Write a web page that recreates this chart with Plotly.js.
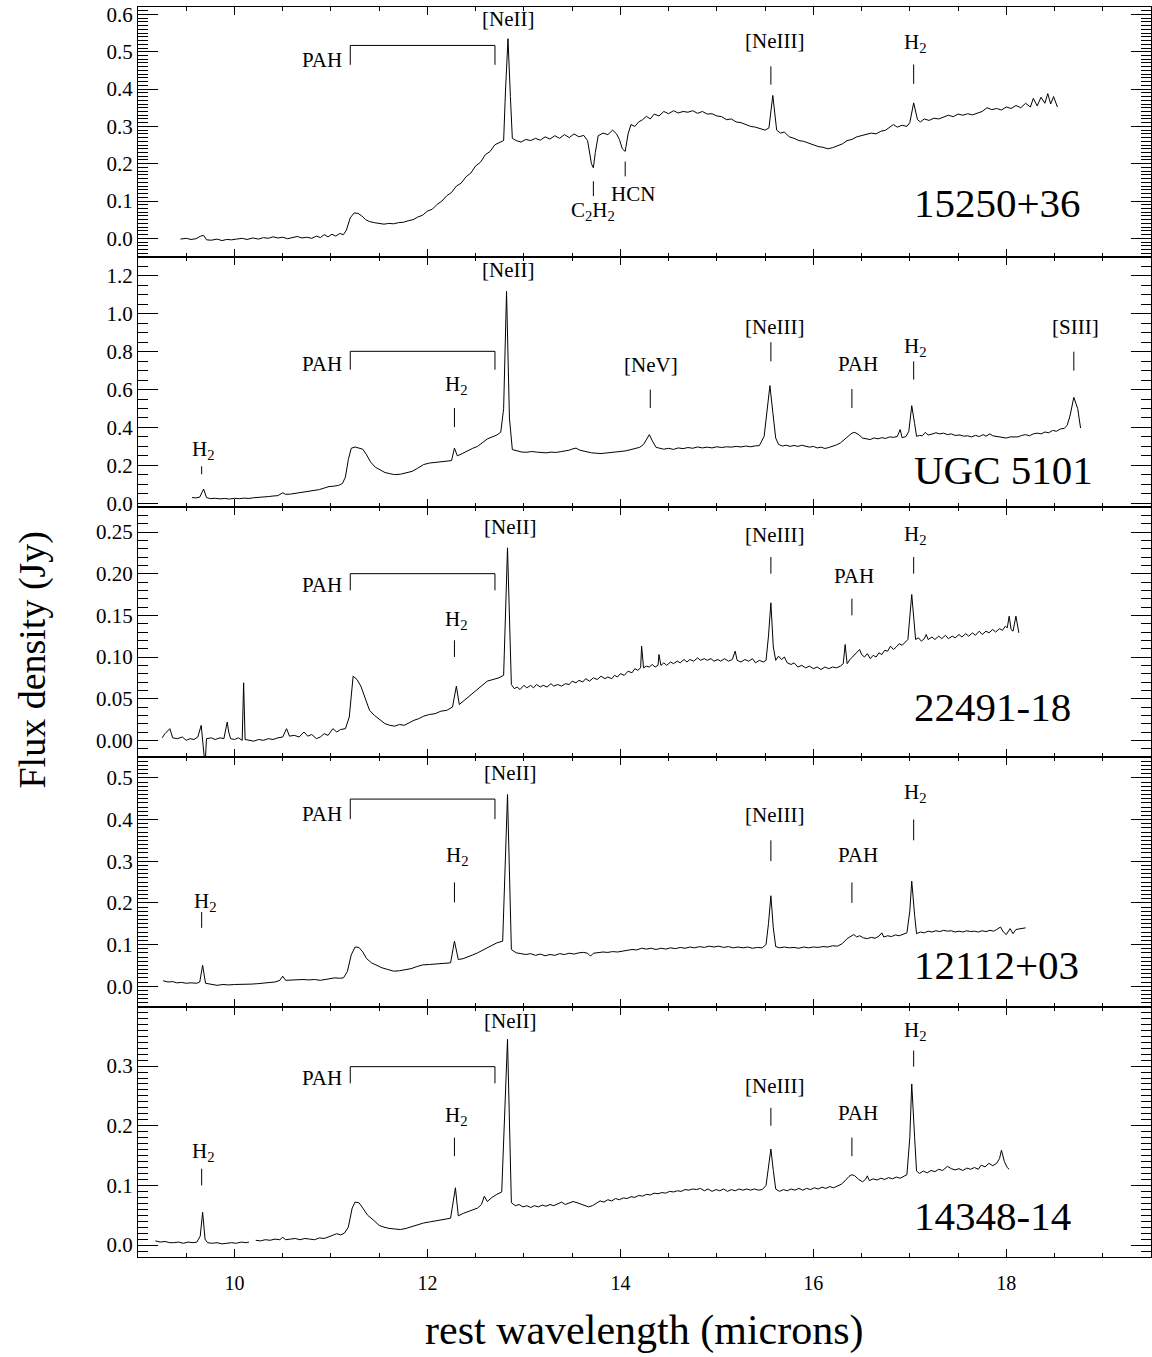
<!DOCTYPE html>
<html>
<head>
<meta charset="utf-8">
<script src="https://cdn.plot.ly/plotly-3.0.1.min.js"></script>
<style>html,body{margin:0;padding:0;background:#fff;}#chart{width:1152px;height:1357px;}</style>
</head>
<body>
<div id="chart"></div>
<script>
// ---------------- DATA ----------------
// each spectrum: [rest wavelength (micron), flux density (Jy)]
const galaxyNames = ["15250+36", "UGC 5101", "22491-18", "12112+03", "14348-14"];

const spec15250 = [[9.44,-0.002],[9.50,0.000],[9.55,-0.003],[9.60,-0.001],[9.65,0.006],[9.68,0.008],[9.71,-0.004],[9.76,-0.005],[9.82,-0.002],[9.87,-0.006],[9.92,-0.003],[9.97,-0.004],[10.02,-0.002],[10.08,0.000],[10.13,-0.003],[10.19,0.001],[10.25,-0.002],[10.30,0.002],[10.35,0.000],[10.40,0.004],[10.45,0.001],[10.50,0.003],[10.55,-0.001],[10.60,0.002],[10.65,0.005],[10.70,0.001],[10.75,0.003],[10.80,0.000],[10.85,0.006],[10.89,0.002],[10.93,0.010],[10.97,0.004],[11.01,0.011],[11.05,0.006],[11.09,0.013],[11.13,0.010],[11.16,0.022],[11.20,0.055],[11.24,0.068],[11.28,0.067],[11.32,0.060],[11.36,0.050],[11.40,0.045],[11.45,0.042],[11.50,0.040],[11.55,0.038],[11.60,0.040],[11.65,0.039],[11.70,0.042],[11.75,0.043],[11.80,0.047],[11.85,0.050],[11.90,0.057],[11.95,0.062],[12.00,0.073],[12.05,0.078],[12.10,0.091],[12.15,0.100],[12.20,0.114],[12.25,0.123],[12.30,0.140],[12.35,0.148],[12.40,0.165],[12.45,0.175],[12.50,0.194],[12.55,0.204],[12.60,0.224],[12.65,0.233],[12.70,0.251],[12.75,0.256],[12.79,0.262],[12.81,0.400],[12.835,0.535],[12.86,0.380],[12.88,0.268],[12.92,0.262],[12.97,0.258],[13.02,0.265],[13.07,0.262],[13.12,0.268],[13.17,0.263],[13.22,0.272],[13.27,0.266],[13.32,0.275],[13.37,0.268],[13.42,0.278],[13.47,0.270],[13.52,0.280],[13.57,0.272],[13.62,0.276],[13.66,0.262],[13.70,0.200],[13.72,0.189],[13.74,0.230],[13.77,0.275],[13.82,0.282],[13.87,0.278],[13.92,0.290],[13.96,0.280],[13.99,0.265],[14.02,0.240],[14.05,0.233],[14.08,0.280],[14.11,0.305],[14.15,0.300],[14.19,0.312],[14.23,0.318],[14.27,0.327],[14.31,0.320],[14.35,0.333],[14.40,0.328],[14.45,0.340],[14.50,0.334],[14.55,0.342],[14.60,0.336],[14.65,0.340],[14.70,0.338],[14.75,0.342],[14.80,0.335],[14.85,0.340],[14.90,0.333],[14.95,0.334],[15.00,0.328],[15.05,0.326],[15.10,0.318],[15.15,0.320],[15.20,0.312],[15.25,0.310],[15.30,0.305],[15.35,0.300],[15.40,0.298],[15.45,0.295],[15.50,0.290],[15.54,0.296],[15.58,0.383],[15.62,0.290],[15.66,0.282],[15.70,0.285],[15.75,0.272],[15.80,0.268],[15.85,0.262],[15.90,0.260],[15.95,0.255],[16.00,0.252],[16.05,0.246],[16.10,0.244],[16.15,0.240],[16.20,0.243],[16.25,0.248],[16.30,0.253],[16.35,0.262],[16.40,0.265],[16.45,0.272],[16.50,0.275],[16.55,0.278],[16.60,0.282],[16.65,0.280],[16.70,0.287],[16.75,0.290],[16.80,0.300],[16.83,0.305],[16.87,0.298],[16.92,0.303],[16.97,0.300],[17.00,0.310],[17.04,0.363],[17.08,0.318],[17.11,0.312],[17.15,0.320],[17.20,0.316],[17.25,0.322],[17.30,0.320],[17.35,0.326],[17.40,0.330],[17.45,0.326],[17.50,0.333],[17.55,0.330],[17.60,0.334],[17.65,0.331],[17.70,0.336],[17.75,0.340],[17.80,0.350],[17.85,0.345],[17.90,0.348],[17.95,0.344],[18.00,0.352],[18.05,0.348],[18.10,0.356],[18.15,0.350],[18.20,0.362],[18.25,0.352],[18.28,0.375],[18.32,0.355],[18.36,0.378],[18.40,0.362],[18.43,0.388],[18.46,0.360],[18.49,0.380],[18.53,0.352]];

const specUGC5101 = [[9.56,0.030],[9.60,0.028],[9.64,0.032],[9.68,0.075],[9.71,0.030],[9.75,0.024],[9.80,0.026],[9.85,0.023],[9.90,0.025],[9.95,0.022],[10.00,0.026],[10.05,0.024],[10.10,0.027],[10.15,0.025],[10.20,0.029],[10.25,0.030],[10.30,0.033],[10.35,0.035],[10.40,0.038],[10.45,0.040],[10.50,0.055],[10.53,0.047],[10.58,0.048],[10.63,0.052],[10.68,0.055],[10.73,0.058],[10.78,0.062],[10.83,0.066],[10.88,0.072],[10.93,0.080],[10.98,0.088],[11.03,0.090],[11.08,0.094],[11.12,0.105],[11.15,0.138],[11.18,0.230],[11.21,0.290],[11.25,0.297],[11.29,0.292],[11.33,0.285],[11.37,0.255],[11.41,0.218],[11.46,0.190],[11.51,0.174],[11.56,0.162],[11.61,0.156],[11.66,0.151],[11.72,0.153],[11.78,0.159],[11.84,0.168],[11.90,0.185],[11.96,0.204],[12.02,0.212],[12.08,0.215],[12.14,0.218],[12.20,0.222],[12.25,0.225],[12.28,0.291],[12.31,0.250],[12.36,0.262],[12.42,0.278],[12.47,0.290],[12.52,0.300],[12.57,0.320],[12.62,0.339],[12.67,0.350],[12.72,0.360],[12.76,0.375],[12.79,0.500],[12.82,1.119],[12.85,0.450],[12.88,0.283],[12.93,0.275],[12.98,0.270],[13.03,0.269],[13.08,0.273],[13.13,0.270],[13.18,0.268],[13.23,0.266],[13.28,0.270],[13.33,0.268],[13.38,0.272],[13.43,0.275],[13.47,0.280],[13.50,0.286],[13.54,0.291],[13.58,0.280],[13.62,0.274],[13.66,0.270],[13.70,0.266],[13.75,0.264],[13.80,0.262],[13.85,0.265],[13.90,0.268],[13.95,0.270],[14.00,0.272],[14.05,0.276],[14.10,0.282],[14.15,0.288],[14.20,0.295],[14.24,0.310],[14.27,0.340],[14.30,0.362],[14.33,0.330],[14.37,0.295],[14.41,0.290],[14.45,0.285],[14.50,0.290],[14.55,0.284],[14.60,0.292],[14.65,0.288],[14.70,0.294],[14.75,0.290],[14.80,0.297],[14.85,0.292],[14.90,0.296],[14.95,0.292],[15.00,0.298],[15.05,0.294],[15.10,0.298],[15.15,0.296],[15.20,0.300],[15.25,0.297],[15.30,0.302],[15.35,0.298],[15.40,0.303],[15.44,0.304],[15.49,0.353],[15.52,0.500],[15.55,0.621],[15.58,0.480],[15.61,0.344],[15.64,0.310],[15.68,0.302],[15.72,0.306],[15.76,0.300],[15.80,0.305],[15.84,0.300],[15.88,0.306],[15.92,0.300],[15.96,0.296],[16.00,0.300],[16.04,0.292],[16.08,0.296],[16.12,0.289],[16.16,0.294],[16.20,0.300],[16.24,0.308],[16.28,0.318],[16.32,0.335],[16.36,0.355],[16.40,0.370],[16.43,0.374],[16.47,0.362],[16.51,0.344],[16.55,0.338],[16.59,0.336],[16.63,0.345],[16.67,0.340],[16.71,0.346],[16.75,0.342],[16.79,0.350],[16.83,0.348],[16.87,0.352],[16.90,0.389],[16.92,0.346],[16.96,0.352],[16.99,0.380],[17.02,0.515],[17.05,0.420],[17.07,0.353],[17.10,0.358],[17.13,0.356],[17.16,0.374],[17.19,0.360],[17.23,0.365],[17.27,0.372],[17.31,0.366],[17.35,0.370],[17.39,0.362],[17.43,0.366],[17.47,0.358],[17.52,0.360],[17.56,0.354],[17.60,0.356],[17.64,0.350],[17.68,0.358],[17.72,0.352],[17.76,0.362],[17.79,0.354],[17.83,0.366],[17.86,0.356],[17.90,0.352],[17.95,0.348],[18.00,0.344],[18.04,0.350],[18.08,0.352],[18.12,0.350],[18.16,0.358],[18.20,0.362],[18.24,0.356],[18.28,0.366],[18.32,0.370],[18.36,0.366],[18.40,0.376],[18.44,0.372],[18.48,0.384],[18.52,0.380],[18.56,0.392],[18.60,0.395],[18.63,0.410],[18.66,0.460],[18.70,0.559],[18.74,0.500],[18.77,0.397]];

const spec22491 = [[9.25,0.003],[9.28,0.008],[9.33,0.014],[9.36,0.003],[9.41,0.002],[9.46,0.004],[9.50,0.000],[9.54,0.002],[9.58,0.001],[9.62,0.004],[9.655,0.018],[9.67,0.002],[9.695,-0.030],[9.71,0.002],[9.76,0.003],[9.80,0.001],[9.85,0.003],[9.89,0.002],[9.925,0.022],[9.94,0.010],[9.96,0.002],[10.00,0.001],[10.04,0.003],[10.08,0.000],[10.095,0.069],[10.11,0.001],[10.15,0.000],[10.20,-0.001],[10.25,0.001],[10.30,0.000],[10.35,0.002],[10.40,0.001],[10.45,0.003],[10.50,0.004],[10.54,0.014],[10.57,0.005],[10.62,0.006],[10.67,0.004],[10.72,0.010],[10.76,0.005],[10.80,0.007],[10.85,0.002],[10.89,0.004],[10.93,0.008],[10.97,0.006],[11.02,0.014],[11.06,0.010],[11.10,0.013],[11.15,0.014],[11.19,0.028],[11.23,0.077],[11.27,0.073],[11.31,0.065],[11.35,0.052],[11.40,0.036],[11.45,0.030],[11.51,0.025],[11.56,0.020],[11.61,0.018],[11.66,0.017],[11.71,0.019],[11.76,0.018],[11.81,0.021],[11.86,0.024],[11.91,0.026],[11.96,0.029],[12.02,0.031],[12.08,0.032],[12.14,0.035],[12.20,0.036],[12.26,0.040],[12.30,0.065],[12.33,0.043],[12.38,0.048],[12.43,0.053],[12.48,0.058],[12.52,0.061],[12.57,0.066],[12.62,0.071],[12.68,0.073],[12.74,0.075],[12.79,0.078],[12.83,0.231],[12.87,0.067],[12.90,0.062],[12.93,0.064],[12.96,0.061],[13.00,0.066],[13.03,0.063],[13.07,0.066],[13.10,0.063],[13.13,0.067],[13.17,0.064],[13.20,0.066],[13.24,0.064],[13.28,0.068],[13.31,0.065],[13.35,0.067],[13.39,0.065],[13.43,0.068],[13.47,0.067],[13.50,0.071],[13.54,0.069],[13.57,0.072],[13.61,0.070],[13.64,0.074],[13.68,0.071],[13.72,0.075],[13.76,0.073],[13.80,0.077],[13.84,0.074],[13.87,0.076],[13.91,0.074],[13.94,0.078],[13.97,0.076],[14.00,0.080],[14.04,0.078],[14.08,0.083],[14.12,0.081],[14.15,0.086],[14.18,0.084],[14.21,0.087],[14.22,0.113],[14.24,0.087],[14.27,0.089],[14.30,0.088],[14.33,0.091],[14.36,0.088],[14.39,0.090],[14.40,0.103],[14.42,0.090],[14.45,0.093],[14.48,0.090],[14.52,0.094],[14.55,0.092],[14.59,0.095],[14.62,0.093],[14.66,0.097],[14.69,0.094],[14.72,0.097],[14.76,0.095],[14.80,0.099],[14.83,0.096],[14.87,0.098],[14.90,0.096],[14.94,0.098],[14.97,0.095],[15.01,0.097],[15.04,0.095],[15.08,0.098],[15.12,0.095],[15.16,0.097],[15.19,0.107],[15.21,0.096],[15.25,0.094],[15.29,0.097],[15.33,0.095],[15.37,0.098],[15.40,0.093],[15.44,0.096],[15.48,0.094],[15.51,0.096],[15.535,0.125],[15.56,0.165],[15.585,0.112],[15.61,0.096],[15.64,0.101],[15.67,0.097],[15.70,0.100],[15.73,0.093],[15.77,0.091],[15.80,0.093],[15.84,0.088],[15.88,0.090],[15.92,0.087],[15.96,0.089],[16.00,0.086],[16.04,0.088],[16.08,0.085],[16.12,0.088],[16.16,0.086],[16.20,0.088],[16.24,0.087],[16.28,0.089],[16.31,0.092],[16.33,0.115],[16.35,0.092],[16.38,0.097],[16.42,0.102],[16.45,0.106],[16.48,0.109],[16.50,0.103],[16.53,0.100],[16.56,0.104],[16.59,0.098],[16.62,0.102],[16.65,0.100],[16.68,0.105],[16.71,0.103],[16.74,0.108],[16.77,0.107],[16.80,0.113],[16.83,0.109],[16.86,0.112],[16.89,0.116],[16.92,0.114],[16.95,0.118],[16.98,0.121],[17.02,0.175],[17.06,0.121],[17.09,0.123],[17.12,0.119],[17.15,0.122],[17.17,0.127],[17.19,0.121],[17.23,0.124],[17.26,0.121],[17.30,0.125],[17.33,0.122],[17.37,0.126],[17.40,0.122],[17.44,0.125],[17.47,0.123],[17.51,0.127],[17.54,0.124],[17.58,0.128],[17.61,0.125],[17.65,0.129],[17.68,0.126],[17.72,0.131],[17.75,0.127],[17.79,0.131],[17.82,0.129],[17.86,0.133],[17.89,0.130],[17.93,0.134],[17.96,0.132],[17.99,0.137],[18.01,0.135],[18.03,0.149],[18.05,0.133],[18.07,0.131],[18.10,0.149],[18.13,0.129]];

const spec12112 = [[9.26,0.013],[9.31,0.010],[9.36,0.011],[9.40,0.008],[9.45,0.009],[9.50,0.007],[9.55,0.008],[9.61,0.007],[9.64,0.010],[9.67,0.050],[9.70,0.007],[9.74,0.005],[9.78,0.003],[9.82,0.002],[9.88,0.004],[9.94,0.003],[10.00,0.004],[10.06,0.004],[10.12,0.005],[10.18,0.005],[10.24,0.006],[10.30,0.007],[10.36,0.008],[10.42,0.010],[10.47,0.014],[10.50,0.024],[10.53,0.014],[10.59,0.015],[10.65,0.015],[10.71,0.016],[10.77,0.015],[10.83,0.016],[10.89,0.014],[10.94,0.016],[10.99,0.019],[11.04,0.020],[11.09,0.019],[11.13,0.020],[11.17,0.035],[11.21,0.075],[11.25,0.094],[11.29,0.093],[11.33,0.082],[11.37,0.066],[11.42,0.056],[11.47,0.050],[11.53,0.044],[11.59,0.040],[11.65,0.036],[11.71,0.037],[11.77,0.039],[11.83,0.042],[11.89,0.047],[11.95,0.051],[12.02,0.052],[12.10,0.054],[12.18,0.055],[12.24,0.056],[12.28,0.108],[12.32,0.064],[12.37,0.066],[12.42,0.070],[12.47,0.075],[12.52,0.080],[12.57,0.086],[12.62,0.093],[12.67,0.099],[12.72,0.104],[12.78,0.108],[12.83,0.460],[12.87,0.088],[12.92,0.080],[12.97,0.078],[13.02,0.076],[13.07,0.078],[13.12,0.074],[13.17,0.077],[13.22,0.073],[13.27,0.076],[13.32,0.074],[13.37,0.078],[13.42,0.076],[13.47,0.079],[13.52,0.077],[13.57,0.080],[13.62,0.081],[13.66,0.079],[13.69,0.072],[13.72,0.079],[13.77,0.080],[13.82,0.082],[13.87,0.081],[13.92,0.083],[13.97,0.082],[14.02,0.084],[14.07,0.086],[14.12,0.088],[14.17,0.087],[14.22,0.091],[14.27,0.089],[14.32,0.091],[14.37,0.088],[14.42,0.091],[14.47,0.089],[14.52,0.092],[14.57,0.090],[14.62,0.093],[14.67,0.091],[14.72,0.094],[14.77,0.092],[14.82,0.095],[14.87,0.093],[14.92,0.096],[14.97,0.094],[15.02,0.096],[15.07,0.093],[15.12,0.095],[15.17,0.092],[15.22,0.094],[15.27,0.092],[15.32,0.094],[15.37,0.091],[15.42,0.093],[15.47,0.092],[15.51,0.100],[15.535,0.150],[15.56,0.217],[15.585,0.140],[15.61,0.095],[15.65,0.092],[15.70,0.094],[15.75,0.092],[15.80,0.093],[15.85,0.091],[15.90,0.094],[15.95,0.092],[16.00,0.094],[16.05,0.093],[16.10,0.095],[16.15,0.094],[16.20,0.097],[16.25,0.096],[16.30,0.102],[16.35,0.114],[16.39,0.120],[16.42,0.124],[16.45,0.118],[16.48,0.121],[16.52,0.116],[16.56,0.114],[16.60,0.117],[16.64,0.115],[16.68,0.120],[16.71,0.128],[16.73,0.118],[16.77,0.121],[16.81,0.119],[16.85,0.123],[16.89,0.121],[16.93,0.125],[16.97,0.128],[17.00,0.180],[17.02,0.252],[17.05,0.170],[17.07,0.126],[17.11,0.130],[17.15,0.128],[17.19,0.132],[17.23,0.130],[17.27,0.133],[17.31,0.131],[17.35,0.134],[17.39,0.132],[17.43,0.133],[17.47,0.130],[17.51,0.132],[17.55,0.130],[17.59,0.133],[17.63,0.131],[17.67,0.132],[17.71,0.130],[17.75,0.133],[17.79,0.131],[17.83,0.134],[17.87,0.132],[17.90,0.136],[17.94,0.142],[17.97,0.130],[18.00,0.124],[18.04,0.138],[18.07,0.126],[18.10,0.136],[18.15,0.138],[18.20,0.140]];

const spec14348 = [[9.18,0.007],[9.23,0.005],[9.28,0.006],[9.33,0.004],[9.37,0.004],[9.42,0.005],[9.47,0.003],[9.52,0.005],[9.57,0.004],[9.61,0.005],[9.645,0.015],[9.67,0.055],[9.695,0.010],[9.72,0.004],[9.77,0.003],[9.82,0.004],[9.87,0.002],[9.92,0.003],[9.97,0.004],[10.02,0.003],[10.07,0.005],[10.12,0.004],[10.15,0.005],[10.185,null],[10.22,0.008],[10.27,0.007],[10.32,0.009],[10.37,0.008],[10.42,0.010],[10.47,0.009],[10.50,0.013],[10.53,0.009],[10.58,0.010],[10.63,0.011],[10.68,0.009],[10.73,0.011],[10.78,0.010],[10.83,0.009],[10.88,0.012],[10.93,0.011],[10.98,0.014],[11.03,0.017],[11.06,0.019],[11.10,0.017],[11.14,0.020],[11.18,0.030],[11.22,0.062],[11.25,0.072],[11.29,0.071],[11.33,0.062],[11.38,0.050],[11.44,0.042],[11.50,0.033],[11.55,0.030],[11.60,0.028],[11.66,0.027],[11.72,0.026],[11.78,0.028],[11.84,0.031],[11.90,0.034],[11.96,0.037],[12.03,0.039],[12.10,0.041],[12.17,0.043],[12.24,0.045],[12.29,0.096],[12.32,0.049],[12.37,0.053],[12.42,0.056],[12.47,0.060],[12.52,0.062],[12.56,0.068],[12.59,0.082],[12.62,0.073],[12.67,0.080],[12.72,0.085],[12.77,0.089],[12.83,0.345],[12.87,0.071],[12.91,0.066],[12.95,0.068],[12.99,0.064],[13.03,0.066],[13.07,0.063],[13.11,0.066],[13.15,0.064],[13.19,0.067],[13.23,0.065],[13.27,0.068],[13.31,0.066],[13.35,0.069],[13.39,0.072],[13.43,0.068],[13.47,0.070],[13.51,0.073],[13.55,0.071],[13.59,0.069],[13.63,0.066],[13.67,0.064],[13.71,0.066],[13.75,0.070],[13.79,0.074],[13.83,0.072],[13.87,0.076],[13.91,0.074],[13.95,0.078],[13.99,0.076],[14.03,0.079],[14.07,0.078],[14.11,0.081],[14.15,0.080],[14.19,0.083],[14.23,0.082],[14.27,0.085],[14.31,0.084],[14.35,0.087],[14.39,0.086],[14.43,0.088],[14.47,0.087],[14.51,0.090],[14.55,0.089],[14.59,0.091],[14.63,0.090],[14.67,0.093],[14.71,0.092],[14.75,0.094],[14.79,0.093],[14.83,0.095],[14.87,0.091],[14.91,0.094],[14.95,0.090],[14.99,0.093],[15.03,0.091],[15.07,0.094],[15.11,0.090],[15.15,0.093],[15.19,0.091],[15.23,0.094],[15.27,0.092],[15.31,0.094],[15.35,0.092],[15.39,0.094],[15.43,0.092],[15.47,0.093],[15.51,0.100],[15.535,0.130],[15.56,0.161],[15.585,0.125],[15.61,0.094],[15.65,0.090],[15.69,0.093],[15.73,0.091],[15.77,0.094],[15.81,0.092],[15.85,0.095],[15.89,0.092],[15.93,0.095],[15.97,0.093],[16.01,0.096],[16.05,0.094],[16.09,0.097],[16.13,0.095],[16.17,0.098],[16.21,0.096],[16.25,0.099],[16.29,0.102],[16.33,0.108],[16.37,0.115],[16.40,0.118],[16.43,0.116],[16.47,0.110],[16.51,0.106],[16.54,0.110],[16.56,0.116],[16.58,0.108],[16.62,0.111],[16.66,0.109],[16.70,0.112],[16.74,0.110],[16.78,0.113],[16.82,0.111],[16.86,0.114],[16.90,0.112],[16.94,0.115],[16.97,0.118],[17.00,0.180],[17.02,0.270],[17.05,0.180],[17.07,0.124],[17.10,0.120],[17.14,0.124],[17.18,0.121],[17.22,0.125],[17.26,0.123],[17.30,0.127],[17.34,0.125],[17.39,0.132],[17.43,0.128],[17.47,0.126],[17.51,0.128],[17.55,0.125],[17.59,0.129],[17.63,0.127],[17.67,0.130],[17.71,0.127],[17.74,0.134],[17.78,0.131],[17.82,0.137],[17.86,0.133],[17.90,0.137],[17.93,0.145],[17.95,0.159],[17.98,0.140],[18.01,0.130],[18.03,0.127]];

const spectra = [spec15250, specUGC5101, spec22491, spec12112, spec14348];

// x-axis tick labels
const xTickVals = [10, 12, 14, 16, 18];

// ---------------- LAYOUT CONFIG ----------------
const FONT = 'Liberation Serif';

const panels = [
  {dom:[0.8,1.0], range:[-0.05,0.62], dtick:0.1, minor:0.01, fmt:'.1f'},
  {dom:[0.6,0.8], range:[-0.02,1.30], dtick:0.2, minor:0.05, fmt:'.1f'},
  {dom:[0.4,0.6], range:[-0.02,0.28], dtick:0.05, minor:0.01, fmt:'.2f'},
  {dom:[0.2,0.4], range:[-0.05,0.55], dtick:0.1, minor:0.01, fmt:'.1f'},
  {dom:[0.0,0.2], range:[-0.02,0.399], dtick:0.1, minor:0.01, fmt:'.1f'}
];

// line labels per panel: text, text position (x,y), tick mark (x, y0, y1)
const H2 = 'H<sub>2</sub>';
const panelLabels = [
  [
    {t:'[NeII]', x:12.83, y:0.587},
    {t:'[NeIII]', x:15.60, y:0.528, tx:15.56, t0:0.412, t1:0.461},
    {t:H2, x:17.06, y:0.524, tx:17.04, t0:0.414, t1:0.466},
    {t:'C<sub>2</sub>H<sub>2</sub>', x:13.72, y:0.072, tx:13.72, t0:0.113, t1:0.153},
    {t:'HCN', x:14.13, y:0.119, tx:14.05, t0:0.166, t1:0.206}
  ],
  [
    {t:H2, x:9.68, y:0.279, tx:9.66, t0:0.153, t1:0.195},
    {t:H2, x:12.30, y:0.626, tx:12.28, t0:0.402, t1:0.503},
    {t:'[NeII]', x:12.83, y:1.23},
    {t:'[NeV]', x:14.32, y:0.732, tx:14.31, t0:0.503, t1:0.600},
    {t:'[NeIII]', x:15.60, y:0.93, tx:15.56, t0:0.749, t1:0.850},
    {t:'PAH', x:16.46, y:0.737, tx:16.40, t0:0.503, t1:0.603},
    {t:H2, x:17.06, y:0.825, tx:17.04, t0:0.653, t1:0.749},
    {t:'[SIII]', x:18.72, y:0.93, tx:18.70, t0:0.700, t1:0.800}
  ],
  [
    {t:H2, x:12.30, y:0.145, tx:12.28, t0:0.100, t1:0.120},
    {t:'[NeII]', x:12.86, y:0.256},
    {t:'[NeIII]', x:15.60, y:0.247, tx:15.56, t0:0.200, t1:0.220},
    {t:'PAH', x:16.42, y:0.197, tx:16.40, t0:0.150, t1:0.170},
    {t:H2, x:17.06, y:0.247, tx:17.04, t0:0.200, t1:0.220}
  ],
  [
    {t:H2, x:9.70, y:0.202, tx:9.66, t0:0.140, t1:0.178},
    {t:H2, x:12.31, y:0.312, tx:12.28, t0:0.201, t1:0.249},
    {t:'[NeII]', x:12.86, y:0.512},
    {t:'[NeIII]', x:15.60, y:0.412, tx:15.56, t0:0.300, t1:0.350},
    {t:'PAH', x:16.46, y:0.316, tx:16.40, t0:0.200, t1:0.249},
    {t:H2, x:17.06, y:0.464, tx:17.04, t0:0.350, t1:0.400}
  ],
  [
    {t:H2, x:9.68, y:0.156, tx:9.66, t0:0.100, t1:0.128},
    {t:H2, x:12.30, y:0.216, tx:12.28, t0:0.149, t1:0.180},
    {t:'[NeII]', x:12.86, y:0.376},
    {t:'[NeIII]', x:15.60, y:0.267, tx:15.56, t0:0.200, t1:0.230},
    {t:'PAH', x:16.46, y:0.221, tx:16.40, t0:0.149, t1:0.180},
    {t:H2, x:17.06, y:0.359, tx:17.04, t0:0.299, t1:0.326}
  ]
];
// PAH bracket per panel: [label y, bracket top y, leg bottom y]
const pahBracket = [
  [0.479, 0.517, 0.465],
  [0.737, 0.802, 0.705],
  [0.186, 0.200, 0.180],
  [0.414, 0.449, 0.401],
  [0.280, 0.299, 0.271]
];
const pahRange = [11.2, 12.7];
const nameY = [0.095, 0.175, 0.040, 0.050, 0.048];

// ---------------- BUILD ----------------
const traces = [];
const layout = {
  width:1152, height:1357,
  margin:{l:138, r:1, t:7, b:100},
  paper_bgcolor:'#fff', plot_bgcolor:'#fff',
  showlegend:false,
  font:{family:FONT, size:21, color:'#000'},
  shapes:[], annotations:[]
};

panels.forEach((p, i) => {
  const n = i + 1;
  const xa = n === 1 ? 'x' : 'x' + n;
  const ya = n === 1 ? 'y' : 'y' + n;
  traces.push({
    x: spectra[i].map(d => d[0]), y: spectra[i].map(d => d[1]), xaxis: xa, yaxis: ya,
    type:'scatter', mode:'lines', line:{color:'#000', width:1},
    connectgaps:false, hoverinfo:'skip'
  });
  layout['xaxis' + (n === 1 ? '' : n)] = {
    domain:[0,1], anchor:ya, range:[9,19.5],
    showline:true, linecolor:'#000', linewidth:1, mirror:'ticks',
    ticks:'inside', ticklen:8, tickwidth:1, tickcolor:'#000',
    tickmode:'array', tickvals:xTickVals, ticktext:xTickVals.map(String),
    minor:{ticks:'inside', dtick:0.5, tick0:0, ticklen:4, tickwidth:1, tickcolor:'#000', showgrid:false},
    showticklabels: n === 5, ticklabelstandoff: 8,
    tickfont:{family:FONT, size:20, color:'#000'},
    showgrid:false, zeroline:false, fixedrange:true
  };
  layout['yaxis' + (n === 1 ? '' : n)] = {
    domain:p.dom, anchor:xa, range:p.range,
    showline:true, linecolor:'#000', linewidth:1, mirror:'ticks',
    ticks:'inside', ticklen:20, tickwidth:1, tickcolor:'#000',
    tick0:0, dtick:p.dtick, tickformat:p.fmt,
    minor:{ticks:'inside', dtick:p.minor, tick0:0, ticklen:10, tickwidth:1, tickcolor:'#000', showgrid:false},
    tickfont:{family:FONT, size:21, color:'#000'},
    showgrid:false, zeroline:false, fixedrange:true
  };

  // line labels and their tick marks
  panelLabels[i].forEach(l => {
    layout.annotations.push({
      xref:xa, yref:ya, x:l.x, y:l.y, text:l.t, showarrow:false,
      xanchor:'center', yanchor:'middle', font:{family:FONT, size:21, color:'#000'}
    });
    if (l.tx !== undefined) {
      layout.shapes.push({type:'line', xref:xa, yref:ya, x0:l.tx, x1:l.tx, y0:l.t0, y1:l.t1,
        line:{color:'#000', width:1}});
    }
  });
  // PAH bracket
  const b = pahBracket[i];
  layout.shapes.push({type:'path', xref:xa, yref:ya,
    path:`M ${pahRange[0]},${b[2]} L ${pahRange[0]},${b[1]} L ${pahRange[1]},${b[1]} L ${pahRange[1]},${b[2]}`,
    line:{color:'#000', width:1}});
  layout.annotations.push({
    xref:xa, yref:ya, x:pahRange[0] - 0.06, y:b[0], text:'PAH', showarrow:false,
    xanchor:'right', yanchor:'middle', font:{family:FONT, size:21, color:'#000'}
  });
  // galaxy name
  layout.annotations.push({
    xref:xa, yref:ya, x:17.02, y:nameY[i], text:galaxyNames[i], showarrow:false,
    xanchor:'left', yanchor:'middle', font:{family:FONT, size:41, color:'#000'}
  });
});

// axis titles
layout.annotations.push({
  xref:'paper', yref:'paper', x:-0.1046, y:0.478, text:'Flux density (Jy)', showarrow:false,
  textangle:-90, xanchor:'center', yanchor:'middle', font:{family:FONT, size:38, color:'#000'}
});
layout.annotations.push({
  xref:'paper', yref:'paper', x:0.5, y:-0.0584, text:'rest wavelength (microns)', showarrow:false,
  xanchor:'center', yanchor:'middle', font:{family:FONT, size:42, color:'#000'}
});

Plotly.newPlot('chart', traces, layout, {staticPlot:true, displayModeBar:false});
</script>
</body>
</html>
